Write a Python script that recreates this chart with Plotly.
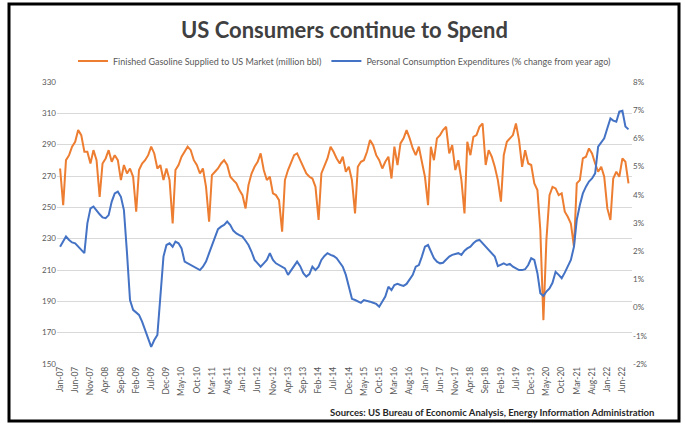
import pandas as pd
import plotly.graph_objects as go

# ---------------- data ----------------
months = pd.date_range("2007-01-01", periods=188, freq="MS")

gasoline = [
    # 2007
    274.8, 251.4, 280.1, 283.3, 288.7, 291.8, 299.3, 296.1, 285.5, 285.5, 278.0, 286.5,
    # 2008
    280.1, 256.7, 278.0, 281.2, 286.5, 279.1, 283.3, 280.1, 267.4, 277.0, 271.6, 274.8,
    # 2009
    269.5, 247.2, 273.8, 278.0, 280.1, 283.3, 288.7, 284.4, 274.8, 277.0, 267.4, 274.8,
    # 2010
    267.4, 239.7, 273.8, 277.0, 282.3, 285.5, 288.7, 286.5, 280.1, 277.0, 271.6, 274.8,
    # 2011
    263.1, 240.8, 270.6, 272.7, 274.8, 278.0, 280.1, 277.0, 269.5, 267.4, 265.3, 261.0,
    # 2012
    257.8, 249.3, 264.2, 271.6, 275.9, 279.1, 284.4, 273.8, 267.4, 269.5, 258.9, 257.8,
    # 2013
    254.6, 234.4, 267.4, 273.8, 279.1, 283.3, 284.4, 280.1, 274.8, 271.6, 269.5, 268.4,
    # 2014
    263.1, 241.9, 271.6, 277.0, 281.2, 288.7, 285.5, 281.2, 278.0, 282.3, 272.7, 275.9,
    # 2015
    267.4, 246.1, 275.9, 279.1, 280.1, 285.5, 292.9, 289.7, 283.3, 280.1, 274.8, 279.1,
    # 2016
    282.3, 268.4, 288.7, 277.0, 290.8, 294.0, 299.3, 294.0, 287.6, 283.3, 288.7, 279.1,
    # 2017
    269.5, 251.4, 288.7, 280.1, 294.0, 296.1, 299.3, 301.4, 284.4, 289.7, 273.8, 280.1,
    # 2018
    267.4, 246.1, 291.8, 283.3, 295.0, 296.1, 301.4, 303.5, 277.0, 286.5, 282.3, 275.9,
    # 2019
    267.4, 253.6, 283.3, 291.8, 294.0, 296.1, 303.5, 292.9, 275.9, 286.5, 278.0, 277.0,
    # 2020
    265.3, 261.0, 235.5, 178.0, 229.1, 257.8, 263.1, 262.1, 257.8, 258.9, 247.2, 244.0,
    # 2021
    239.7, 224.8, 265.3, 267.4, 281.2, 282.3, 287.6, 284.4, 278.0, 272.7, 275.9, 269.5,
    # 2022
    249.3, 241.9, 268.4, 272.7, 269.5, 281.2, 279.1, 265.3,
]

pce_pct = [
    # 2007
    2.16, 2.34, 2.52, 2.40, 2.31, 2.28, 2.16, 2.04, 1.93, 2.99, 3.52, 3.58,
    # 2008
    3.43, 3.31, 3.20, 3.17, 3.28, 3.76, 4.05, 4.11, 3.93, 3.46, 1.93, 0.27,
    # 2009
    -0.08, -0.18, -0.26, -0.50, -0.79, -1.03, -1.39, -1.15, -0.97, 0.39, 1.81, 2.22,
    # 2010
    2.28, 2.16, 2.34, 2.28, 2.10, 1.63, 1.57, 1.53, 1.45, 1.39, 1.33, 1.45,
    # 2011
    1.63, 1.93, 2.22, 2.52, 2.78, 2.87, 2.93, 3.05, 2.93, 2.73, 2.63, 2.57,
    # 2012
    2.52, 2.37, 2.22, 1.98, 1.69, 1.57, 1.45, 1.57, 1.69, 1.93, 1.69, 1.57,
    # 2013
    1.51, 1.45, 1.39, 1.16, 1.31, 1.45, 1.63, 1.47, 1.22, 1.10, 1.19, 1.45,
    # 2014
    1.33, 1.45, 1.69, 1.83, 1.93, 1.87, 1.83, 1.75, 1.59, 1.45, 1.16, 0.74,
    # 2015
    0.31, 0.27, 0.21, 0.17, 0.27, 0.25, 0.21, 0.17, 0.13, 0.03, 0.21, 0.39,
    # 2016
    0.74, 0.62, 0.80, 0.84, 0.80, 0.77, 0.84, 0.98, 1.16, 1.45, 1.51, 1.81,
    # 2017
    2.16, 2.22, 1.98, 1.75, 1.63, 1.57, 1.59, 1.69, 1.81, 1.87, 1.90, 1.93,
    # 2018
    1.87, 2.02, 2.10, 2.16, 2.28, 2.37, 2.40, 2.28, 2.16, 2.04, 1.93, 1.81,
    # 2019
    1.47, 1.51, 1.57, 1.51, 1.55, 1.45, 1.39, 1.33, 1.33, 1.36, 1.51, 1.75,
    # 2020
    1.69, 1.22, 0.51, 0.41, 0.57, 0.68, 0.88, 1.27, 1.16, 1.04, 1.24, 1.45,
    # 2021
    1.69, 2.16, 3.11, 3.64, 4.05, 4.29, 4.47, 4.58, 4.76, 5.71, 5.85, 6.00,
    # 2022
    6.36, 6.71, 6.63, 6.59, 6.95, 6.98, 6.42, 6.32,
]

left_ticks = [150, 170, 190, 210, 230, 250, 270, 290, 310, 330]
right_ticks = [-2, -1, 0, 1, 2, 3, 4, 5, 6, 7, 8]
right_labels = ["-2%", "-1%", "0%", "1%", "2%", "3%", "4%", "5%", "6%", "7%", "8%"]

title_text = "US Consumers continue to Spend"
name_gas = "Finished Gasoline Supplied to US Market (million bbl)"
name_pce = "Personal Consumption Expenditures (% change from year ago)"
source_text = "Sources: US Bureau of Economic Analysis, Energy Information Administration"

# ---------------- layout geometry (pixels) ----------------
W, H = 685, 426
PL, PR, PT, PB = 57, 632, 82, 364  # plot area
pw, ph = PR - PL, PB - PT


def px(x):
    return (x - PL) / pw


def py(y):
    return (PB - y) / ph


ORANGE = "#ED7D31"
BLUE = "#4472C4"
GREY = "#595959"
FONT = "Lato, Open Sans, sans-serif"

fig = go.Figure()
fig.add_trace(go.Scatter(x=months, y=gasoline, name=name_gas, mode="lines",
                         line=dict(color=ORANGE, width=2), yaxis="y"))
fig.add_trace(go.Scatter(x=months, y=pce_pct, name=name_pce, mode="lines",
                         line=dict(color=BLUE, width=2), yaxis="y2"))

fig.update_layout(
    width=W, height=H,
    margin=dict(l=PL, r=W - PR, t=PT, b=H - PB),
    paper_bgcolor="white", plot_bgcolor="white",
    font=dict(family=FONT, color=GREY, size=8),
    title=dict(text=title_text, x=0.5, xref="paper", xanchor="center",
               y=1 - 30 / H, yanchor="middle",
               font=dict(family=FONT, size=22, color="#404040", weight="bold")),
    showlegend=True,
    legend=dict(orientation="h", x=0.5, xanchor="center", y=py(61), yanchor="middle",
                font=dict(size=9, color=GREY), bgcolor="rgba(0,0,0,0)",
                itemwidth=30, tracegroupgap=0),
    xaxis=dict(type="date", range=["2006-12-01", "2022-09-05"],
               tickformat="%b-%y", dtick="M5", tick0="2007-01-01",
               tickangle=-90, tickfont=dict(size=8.5, color=GREY),
               showgrid=False, showline=False, ticks="", zeroline=False),
    yaxis=dict(range=[150, 330], tickvals=left_ticks, showgrid=True,
               gridcolor="#d9d9d9", gridwidth=1, zeroline=False,
               tickfont=dict(size=8, color=GREY), ticks="", showline=False),
    yaxis2=dict(range=[-2, 8], tickvals=right_ticks, ticktext=right_labels,
                overlaying="y", side="right", showgrid=False, zeroline=False,
                tickfont=dict(size=8, color=GREY), ticks="", showline=False),
    annotations=[
        dict(text=source_text, xref="paper", yref="paper", x=px(656), y=py(412),
             xanchor="right", yanchor="middle", showarrow=False,
             font=dict(size=9.5, color="#262626", family=FONT, weight="bold")),
    ],
    shapes=[
        dict(type="rect", xref="paper", yref="paper",
             x0=px(9), x1=px(679), y0=py(421), y1=py(4),
             line=dict(color="black", width=3), fillcolor="rgba(0,0,0,0)",
             layer="above"),
    ],
)

fig.write_html("out.html",
               config={"displayModeBar": False},
               post_script="document.body.style.margin='0';document.body.style.overflow='hidden';")
